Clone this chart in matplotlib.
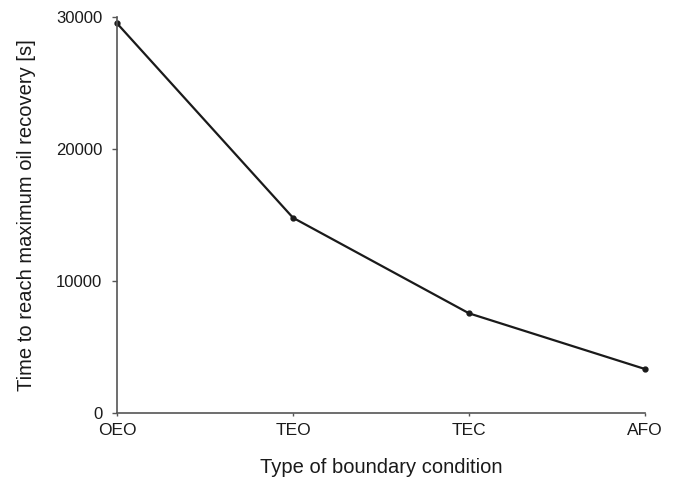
import matplotlib.pyplot as plt

plt.rcParams["font.family"] = ["Liberation Sans", "DejaVu Sans"]

INK = "#1a1a1a"
AXIS = "#555555"

conditions = ["OEO", "TEO", "TEC", "AFO"]
recovery_time = [29500, 14770, 7530, 3310]
y_ticks = [0, 10000, 20000, 30000]

fig = plt.figure(figsize=(6.78, 4.79), dpi=100, facecolor="white")
ax = fig.add_axes([0.1726, 0.1384, 0.7787, 0.8266])

x = list(range(len(conditions)))
ax.plot(x, recovery_time, color=INK, linewidth=1.6, marker="o", markersize=3.5,
        markerfacecolor=INK, markeredgecolor=INK)

ax.set_xlim(0, len(conditions) - 1)
ax.set_ylim(0, 30000)
ax.set_xticks(x, labels=conditions)
ax.set_yticks(y_ticks, labels=[str(v) for v in y_ticks])
ax.tick_params(axis="x", direction="out", length=2.5, width=1, color=AXIS,
               labelsize=12.5, labelcolor=INK, pad=5)
ax.tick_params(axis="y", direction="out", length=3.6, width=1, color=AXIS,
               labelsize=12, labelcolor=INK, pad=7)

for side in ("top", "right"):
    ax.spines[side].set_visible(False)
for side in ("left", "bottom"):
    ax.spines[side].set_color(AXIS)
    ax.spines[side].set_linewidth(1.2)

ax.set_xlabel("Type of boundary condition", fontsize=14.5, color=INK, labelpad=14)
ax.set_ylabel("Time to reach maximum oil recovery [s]", fontsize=14.5, color=INK, labelpad=14)

for line in ax.get_lines():
    line.set_clip_on(False)

fig.savefig("out.png", dpi=100, facecolor="white")
plt.close(fig)
